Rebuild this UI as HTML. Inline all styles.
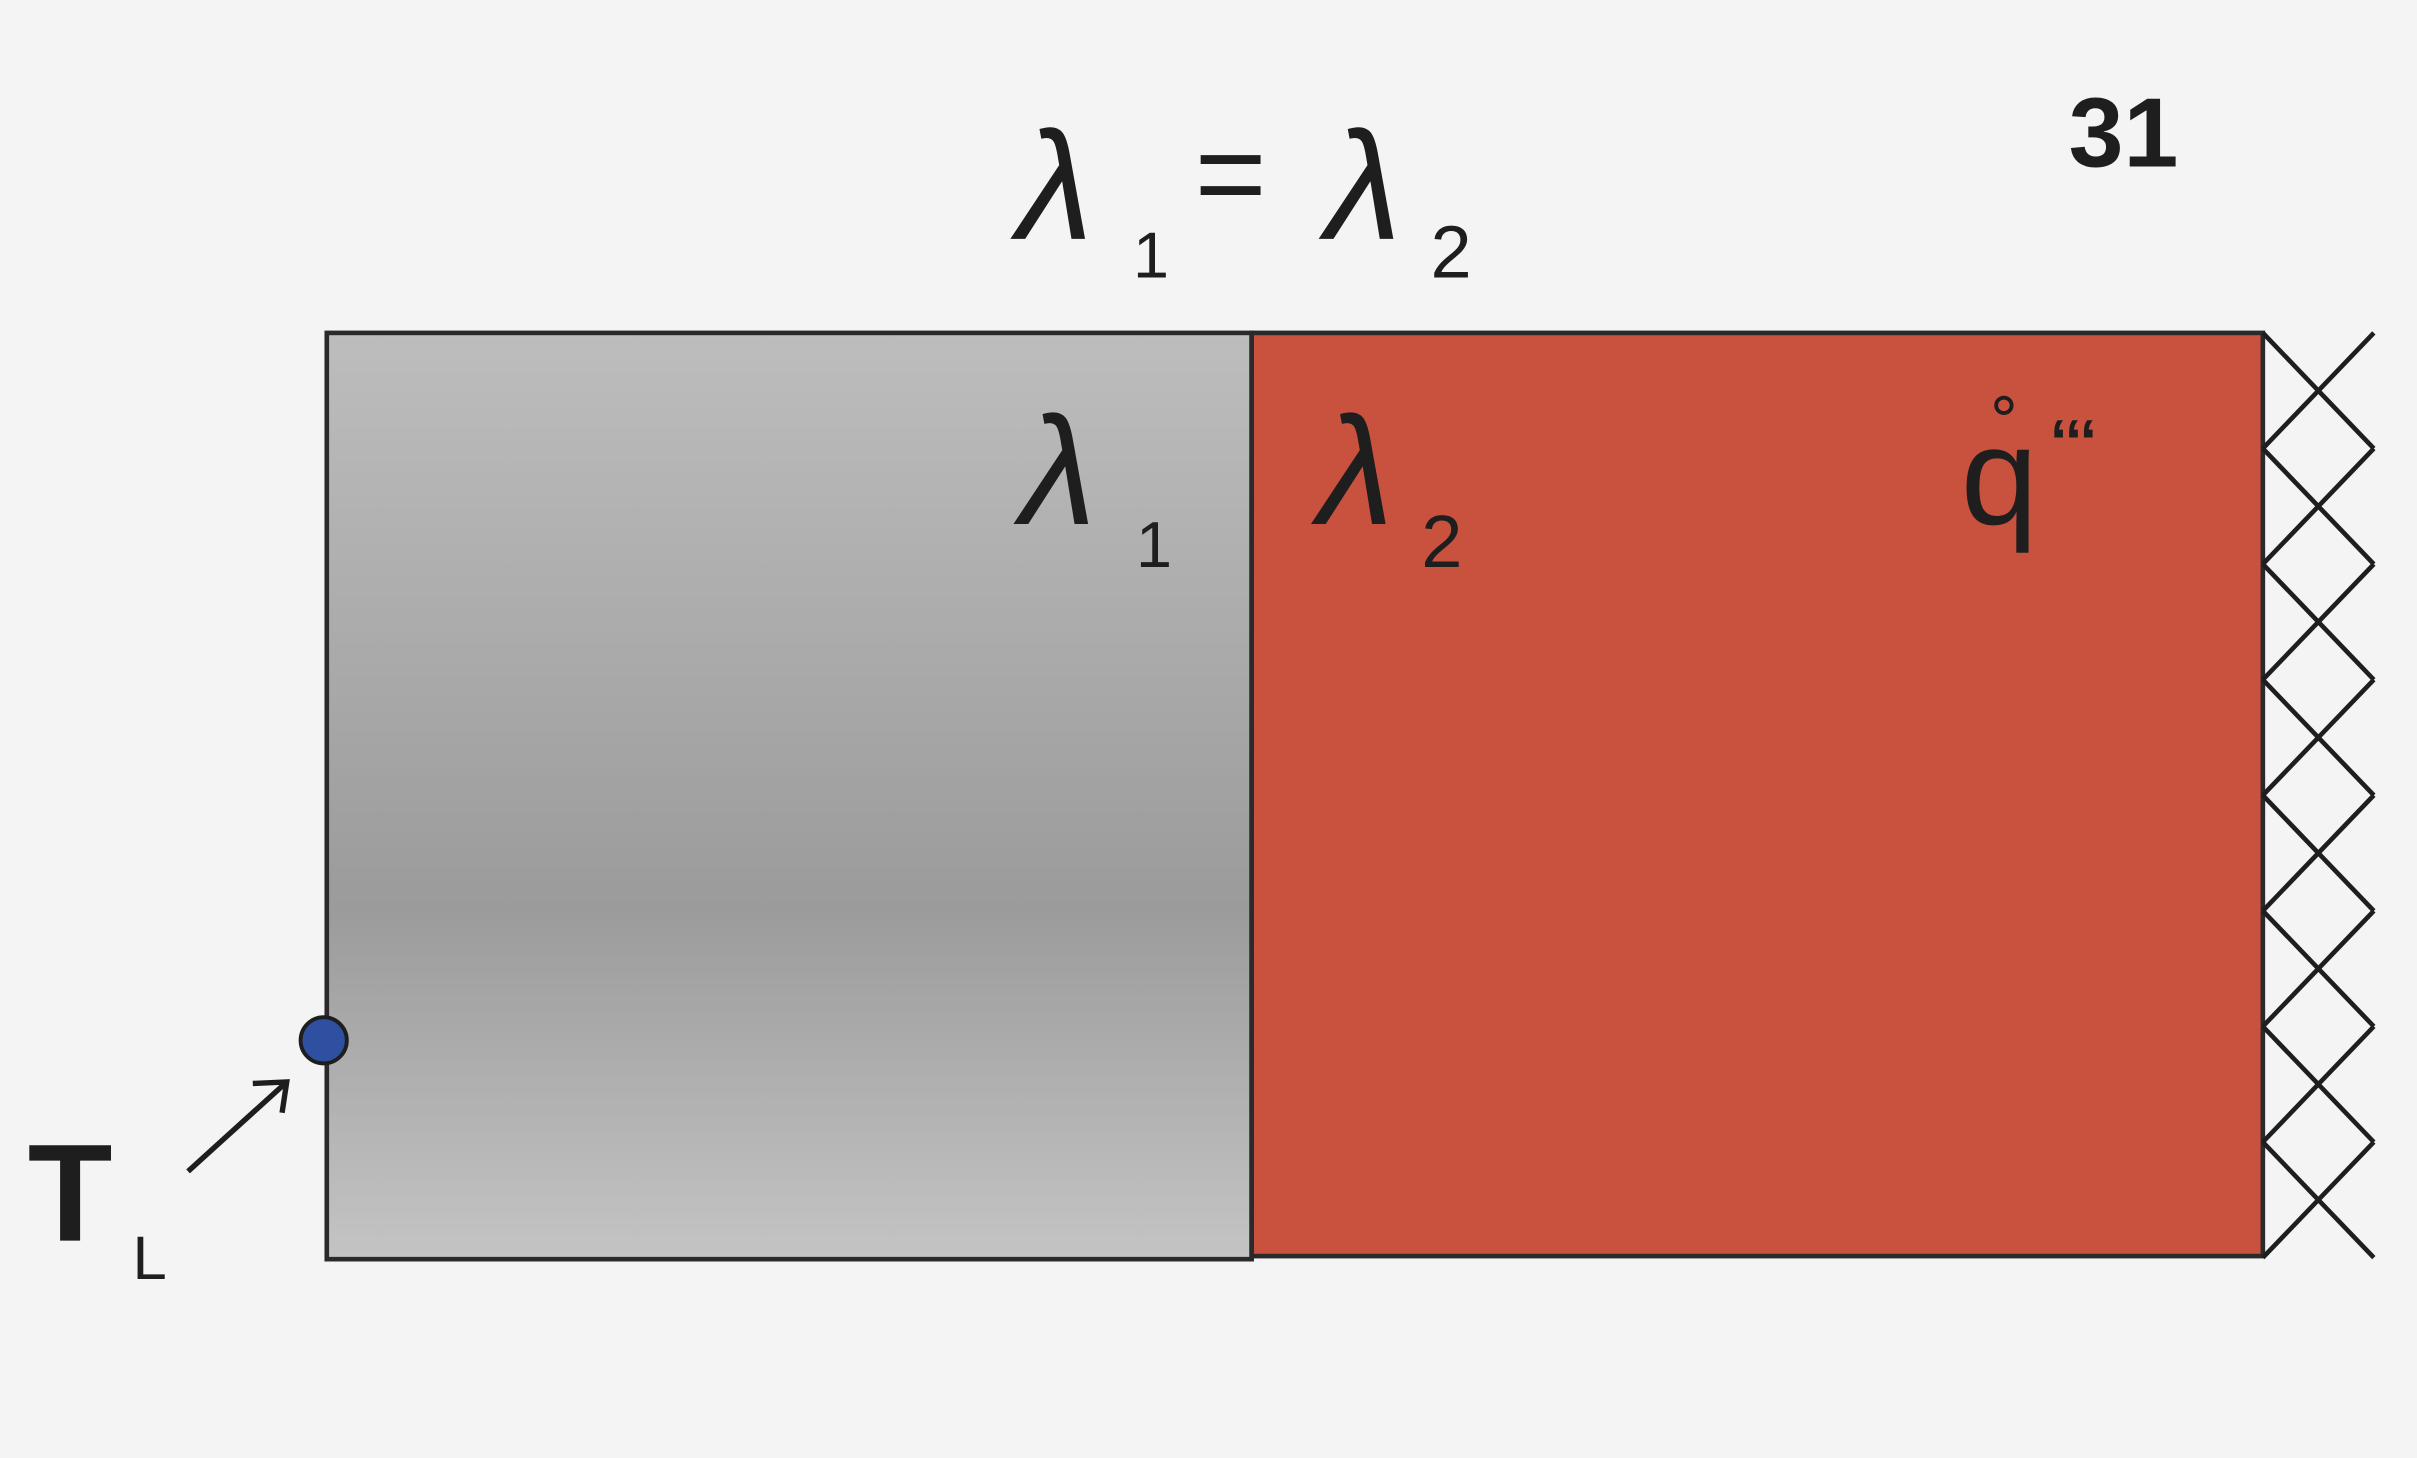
<!DOCTYPE html>
<html><head><meta charset="utf-8"><style>
html,body{margin:0;padding:0;background:#f4f4f4;}
svg{display:block;}
text{font-family:"Liberation Sans",sans-serif;fill:#1e1e1e;}
</style></head><body>
<svg width="2417" height="1458" viewBox="0 0 1568 946" preserveAspectRatio="none" xmlns="http://www.w3.org/2000/svg">
<defs>
<linearGradient id="g" x1="0" y1="0" x2="0" y2="1">
<stop offset="0" stop-color="#bdbdbd"/><stop offset="0.62" stop-color="#9b9b9b"/><stop offset="1" stop-color="#c4c4c4"/>
</linearGradient>
</defs>
<rect width="1568" height="946" fill="#f4f4f4"/>
<rect x="212" y="216" width="600" height="601" fill="url(#g)" stroke="#2a2a2a" stroke-width="3"/>
<rect x="812" y="216" width="656" height="599" fill="#c9523f" stroke="#2a2a2a" stroke-width="3"/>
<g id="hatch" stroke="#1e1e1e" stroke-width="3" fill="none"></g>
<text x="660" y="155" font-size="100" font-style="italic">λ</text>
<text x="735" y="180" font-size="42">1</text>
<text x="775" y="140" font-size="80">=</text>
<text x="860" y="155" font-size="100" font-style="italic">λ</text>
<text x="928" y="180" font-size="48">2</text>
<text x="1342" y="108" font-size="64" font-weight="bold">31</text>
<text x="662" y="340" font-size="100" font-style="italic">λ</text>
<text x="737" y="368" font-size="42">1</text>
<text x="855" y="340" font-size="100" font-style="italic">λ</text>
<text x="922" y="368" font-size="48">2</text>
<text x="1272" y="340" font-size="90">q</text>
<circle cx="1300" cy="263" r="5" fill="none" stroke="#1e1e1e" stroke-width="2.5"/>
<text x="1330" y="300" font-size="40" font-weight="bold">‘‘‘</text>
<text x="18" y="805" font-size="90" font-weight="bold">T</text>
<text x="86" y="830" font-size="40">L</text>
<line x1="122" y1="760" x2="186" y2="702" stroke="#1e1e1e" stroke-width="3.5"/>
<polyline points="164,703 186,702 183,722" fill="none" stroke="#1e1e1e" stroke-width="3.5"/>
<circle cx="210" cy="675" r="15" fill="#2f4fa0" stroke="#1e1e1e" stroke-width="2.5"/>
</svg>
<script>
const hatchStarts=[216,291,366,441,516,591,666,741];
const hatchStep=75;
const g=document.getElementById('hatch');
hatchStarts.forEach(function(y){
  [[1468,y,1540,y+hatchStep],[1540,y,1468,y+hatchStep]].forEach(function(c){
    const l=document.createElementNS('http://www.w3.org/2000/svg','line');
    l.setAttribute('x1',c[0]);l.setAttribute('y1',c[1]);l.setAttribute('x2',c[2]);l.setAttribute('y2',c[3]);
    
    
    g.appendChild(l);
  });
});
</script>
</body></html>
